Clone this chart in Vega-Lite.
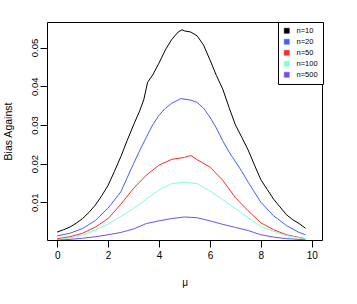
{
  "$schema": "https://vega.github.io/schema/vega-lite/v6.json",
  "width": 275,
  "height": 218,
  "autosize": "none",
  "padding": {"left": 47, "top": 22, "right": 35, "bottom": 64},
  "background": "white",
  "config": {
    "font": "Liberation Sans",
    "view": {"stroke": "black", "strokeWidth": 1},
    "axis": {"grid": false, "domain": false, "tickColor": "black", "labelColor": "black", "titleColor": "black", "labelFont": "Liberation Sans", "titleFont": "Liberation Sans", "titleFontWeight": "normal"}
  },
  "data": {"values": [
    {"mu": 0, "bias": 0.0023, "n": "n=10"},
    {"mu": 0.25, "bias": 0.0029, "n": "n=10"},
    {"mu": 0.5, "bias": 0.0036, "n": "n=10"},
    {"mu": 0.75, "bias": 0.0046, "n": "n=10"},
    {"mu": 1.0, "bias": 0.0058, "n": "n=10"},
    {"mu": 1.25, "bias": 0.0074, "n": "n=10"},
    {"mu": 1.5, "bias": 0.0093, "n": "n=10"},
    {"mu": 1.75, "bias": 0.0117, "n": "n=10"},
    {"mu": 2.0, "bias": 0.0144, "n": "n=10"},
    {"mu": 2.25, "bias": 0.0180, "n": "n=10"},
    {"mu": 2.5, "bias": 0.0218, "n": "n=10"},
    {"mu": 2.75, "bias": 0.0260, "n": "n=10"},
    {"mu": 3.0, "bias": 0.0300, "n": "n=10"},
    {"mu": 3.25, "bias": 0.0338, "n": "n=10"},
    {"mu": 3.4, "bias": 0.0365, "n": "n=10"},
    {"mu": 3.55, "bias": 0.0410, "n": "n=10"},
    {"mu": 3.75, "bias": 0.0429, "n": "n=10"},
    {"mu": 4.0, "bias": 0.0460, "n": "n=10"},
    {"mu": 4.25, "bias": 0.0494, "n": "n=10"},
    {"mu": 4.5, "bias": 0.0521, "n": "n=10"},
    {"mu": 4.75, "bias": 0.0540, "n": "n=10"},
    {"mu": 4.9, "bias": 0.0546, "n": "n=10"},
    {"mu": 5.0, "bias": 0.0543, "n": "n=10"},
    {"mu": 5.25, "bias": 0.0540, "n": "n=10"},
    {"mu": 5.5, "bias": 0.0530, "n": "n=10"},
    {"mu": 5.75, "bias": 0.0506, "n": "n=10"},
    {"mu": 6.0, "bias": 0.0468, "n": "n=10"},
    {"mu": 6.25, "bias": 0.0428, "n": "n=10"},
    {"mu": 6.5, "bias": 0.0393, "n": "n=10"},
    {"mu": 6.75, "bias": 0.0345, "n": "n=10"},
    {"mu": 7.0, "bias": 0.0300, "n": "n=10"},
    {"mu": 7.25, "bias": 0.0268, "n": "n=10"},
    {"mu": 7.5, "bias": 0.0235, "n": "n=10"},
    {"mu": 7.75, "bias": 0.0196, "n": "n=10"},
    {"mu": 8.0, "bias": 0.0158, "n": "n=10"},
    {"mu": 8.25, "bias": 0.0133, "n": "n=10"},
    {"mu": 8.5, "bias": 0.0108, "n": "n=10"},
    {"mu": 8.75, "bias": 0.0088, "n": "n=10"},
    {"mu": 9.0, "bias": 0.0068, "n": "n=10"},
    {"mu": 9.25, "bias": 0.0055, "n": "n=10"},
    {"mu": 9.5, "bias": 0.0045, "n": "n=10"},
    {"mu": 9.75, "bias": 0.0033, "n": "n=10"},

    {"mu": 0, "bias": 0.0013, "n": "n=20"},
    {"mu": 0.5, "bias": 0.0020, "n": "n=20"},
    {"mu": 1.0, "bias": 0.0032, "n": "n=20"},
    {"mu": 1.5, "bias": 0.0053, "n": "n=20"},
    {"mu": 2.0, "bias": 0.0085, "n": "n=20"},
    {"mu": 2.5, "bias": 0.0127, "n": "n=20"},
    {"mu": 3.0, "bias": 0.0200, "n": "n=20"},
    {"mu": 3.25, "bias": 0.0235, "n": "n=20"},
    {"mu": 3.5, "bias": 0.0268, "n": "n=20"},
    {"mu": 3.75, "bias": 0.0300, "n": "n=20"},
    {"mu": 4.0, "bias": 0.0325, "n": "n=20"},
    {"mu": 4.25, "bias": 0.0343, "n": "n=20"},
    {"mu": 4.5, "bias": 0.0356, "n": "n=20"},
    {"mu": 4.85, "bias": 0.0368, "n": "n=20"},
    {"mu": 5.25, "bias": 0.0364, "n": "n=20"},
    {"mu": 5.5, "bias": 0.0358, "n": "n=20"},
    {"mu": 5.75, "bias": 0.0343, "n": "n=20"},
    {"mu": 6.0, "bias": 0.0320, "n": "n=20"},
    {"mu": 6.25, "bias": 0.0292, "n": "n=20"},
    {"mu": 6.5, "bias": 0.0259, "n": "n=20"},
    {"mu": 6.75, "bias": 0.0230, "n": "n=20"},
    {"mu": 7.0, "bias": 0.0205, "n": "n=20"},
    {"mu": 7.25, "bias": 0.0180, "n": "n=20"},
    {"mu": 7.5, "bias": 0.0152, "n": "n=20"},
    {"mu": 8.0, "bias": 0.0100, "n": "n=20"},
    {"mu": 8.5, "bias": 0.0065, "n": "n=20"},
    {"mu": 9.0, "bias": 0.0040, "n": "n=20"},
    {"mu": 9.5, "bias": 0.0022, "n": "n=20"},
    {"mu": 9.75, "bias": 0.0016, "n": "n=20"},

    {"mu": 0, "bias": 0.0006, "n": "n=50"},
    {"mu": 0.5, "bias": 0.0011, "n": "n=50"},
    {"mu": 1.0, "bias": 0.0020, "n": "n=50"},
    {"mu": 1.5, "bias": 0.0036, "n": "n=50"},
    {"mu": 2.0, "bias": 0.0058, "n": "n=50"},
    {"mu": 2.5, "bias": 0.0095, "n": "n=50"},
    {"mu": 3.0, "bias": 0.0136, "n": "n=50"},
    {"mu": 3.5, "bias": 0.0170, "n": "n=50"},
    {"mu": 4.0, "bias": 0.0196, "n": "n=50"},
    {"mu": 4.5, "bias": 0.0211, "n": "n=50"},
    {"mu": 5.0, "bias": 0.0216, "n": "n=50"},
    {"mu": 5.25, "bias": 0.0221, "n": "n=50"},
    {"mu": 5.5, "bias": 0.0210, "n": "n=50"},
    {"mu": 6.0, "bias": 0.0191, "n": "n=50"},
    {"mu": 6.5, "bias": 0.0157, "n": "n=50"},
    {"mu": 7.0, "bias": 0.0112, "n": "n=50"},
    {"mu": 7.5, "bias": 0.0078, "n": "n=50"},
    {"mu": 8.0, "bias": 0.0047, "n": "n=50"},
    {"mu": 8.5, "bias": 0.0029, "n": "n=50"},
    {"mu": 9.0, "bias": 0.0016, "n": "n=50"},
    {"mu": 9.5, "bias": 0.0009, "n": "n=50"},
    {"mu": 9.75, "bias": 0.0006, "n": "n=50"},

    {"mu": 0, "bias": 0.0003, "n": "n=100"},
    {"mu": 0.5, "bias": 0.0007, "n": "n=100"},
    {"mu": 1.0, "bias": 0.0015, "n": "n=100"},
    {"mu": 1.5, "bias": 0.0028, "n": "n=100"},
    {"mu": 2.0, "bias": 0.0044, "n": "n=100"},
    {"mu": 2.5, "bias": 0.0063, "n": "n=100"},
    {"mu": 3.0, "bias": 0.0084, "n": "n=100"},
    {"mu": 3.5, "bias": 0.0108, "n": "n=100"},
    {"mu": 4.0, "bias": 0.0132, "n": "n=100"},
    {"mu": 4.5, "bias": 0.0148, "n": "n=100"},
    {"mu": 5.0, "bias": 0.0152, "n": "n=100"},
    {"mu": 5.5, "bias": 0.0148, "n": "n=100"},
    {"mu": 6.0, "bias": 0.0129, "n": "n=100"},
    {"mu": 6.5, "bias": 0.0107, "n": "n=100"},
    {"mu": 7.0, "bias": 0.0084, "n": "n=100"},
    {"mu": 7.5, "bias": 0.0060, "n": "n=100"},
    {"mu": 8.0, "bias": 0.0037, "n": "n=100"},
    {"mu": 8.5, "bias": 0.0025, "n": "n=100"},
    {"mu": 9.0, "bias": 0.0014, "n": "n=100"},
    {"mu": 9.5, "bias": 0.0008, "n": "n=100"},
    {"mu": 9.75, "bias": 0.0006, "n": "n=100"},

    {"mu": 0, "bias": 0.0002, "n": "n=500"},
    {"mu": 0.5, "bias": 0.0004, "n": "n=500"},
    {"mu": 1.0, "bias": 0.0007, "n": "n=500"},
    {"mu": 1.5, "bias": 0.0011, "n": "n=500"},
    {"mu": 2.0, "bias": 0.0016, "n": "n=500"},
    {"mu": 2.5, "bias": 0.0022, "n": "n=500"},
    {"mu": 3.0, "bias": 0.0031, "n": "n=500"},
    {"mu": 3.5, "bias": 0.0045, "n": "n=500"},
    {"mu": 4.0, "bias": 0.0052, "n": "n=500"},
    {"mu": 4.5, "bias": 0.0058, "n": "n=500"},
    {"mu": 5.0, "bias": 0.0062, "n": "n=500"},
    {"mu": 5.5, "bias": 0.0060, "n": "n=500"},
    {"mu": 6.0, "bias": 0.0052, "n": "n=500"},
    {"mu": 6.5, "bias": 0.0043, "n": "n=500"},
    {"mu": 7.0, "bias": 0.0035, "n": "n=500"},
    {"mu": 7.5, "bias": 0.0027, "n": "n=500"},
    {"mu": 8.0, "bias": 0.0016, "n": "n=500"},
    {"mu": 8.5, "bias": 0.0010, "n": "n=500"},
    {"mu": 9.0, "bias": 0.0006, "n": "n=500"},
    {"mu": 9.5, "bias": 0.0004, "n": "n=500"},
    {"mu": 9.75, "bias": 0.0003, "n": "n=500"}
  ]},
  "mark": {"type": "line", "strokeWidth": 1, "clip": true},
  "encoding": {
    "x": {
      "field": "mu", "type": "quantitative",
      "scale": {"domain": [-0.4, 10.4], "nice": false, "zero": false},
      "axis": {"values": [0, 2, 4, 6, 8, 10], "tickSize": 7, "labelPadding": 3, "labelFontSize": 10, "labelBaseline": "top", "title": "μ", "titleFontSize": 10, "titleBaseline": "alphabetic", "titleY": 45, "titleX": 137.5, "labelFlush": false}
    },
    "y": {
      "field": "bias", "type": "quantitative",
      "scale": {"domain": [0.00025, 0.0566], "nice": false, "zero": false},
      "axis": {"values": [0.01, 0.02, 0.03, 0.04, 0.05], "format": ".2f", "tickSize": 7, "labelPadding": 3, "labelFontSize": 9.5, "labelAngle": 270, "labelAlign": "center", "labelBaseline": "alphabetic", "labelFlush": false, "title": "Bias Against", "titleFontSize": 10.5, "titleAngle": 270, "titleAlign": "center", "titleBaseline": "alphabetic", "titleX": -36, "titleY": 109}
    },
    "color": {
      "field": "n", "type": "nominal",
      "scale": {"domain": ["n=10", "n=20", "n=50", "n=100", "n=500"], "range": ["#000000", "#4a5cff", "#ff2a2a", "#7fffd4", "#7050f0"]},
      "legend": {
        "title": null, "orient": "none", "legendX": 231, "legendY": 0,
        "direction": "vertical",
        "strokeColor": "black", "fillColor": "white", "padding": 5,
        "symbolType": "square", "symbolSize": 25, "symbolStrokeWidth": 0.6, "symbolOpacity": 1,
        "labelFontSize": 7.5, "labelOffset": 6, "rowPadding": 2, "labelColor": "black",
        "encode": {"symbols": {"update": {"fill": {"scale": "color", "field": "value"}, "fillOpacity": {"value": 1}, "stroke": {"value": "#222222"}, "strokeWidth": {"value": 0.6}}}}
      }
    }
  }
}
